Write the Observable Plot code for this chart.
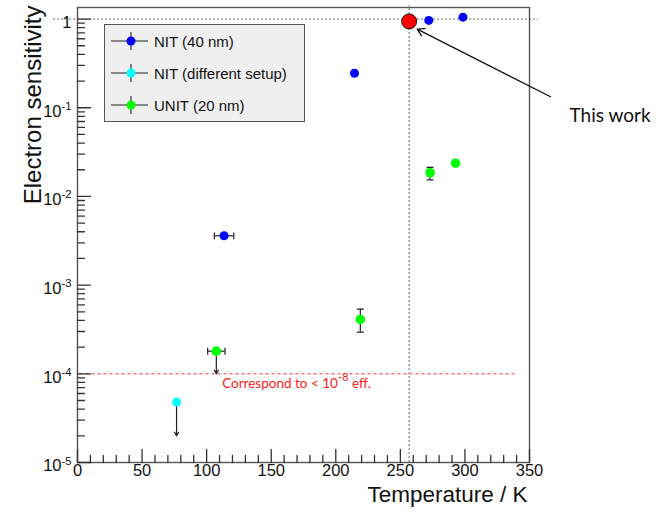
<!DOCTYPE html>
<html>
<head>
<meta charset="utf-8">
<script src="https://cdn.jsdelivr.net/npm/d3@7"></script>
<script src="https://cdn.jsdelivr.net/npm/@observablehq/plot@0.6"></script>
<style>
  body { margin: 0; background: #fff; }
  #wrap { position: relative; width: 660px; height: 514px; }
  .legend {
    position: absolute; left: 104px; top: 24px; width: 199px; height: 96px;
    background: #efefef; border: 1.3px solid #555; box-sizing: content-box;
    font: 15px "Liberation Sans", Arial, sans-serif; color: #111;
  }
  .legend .row { position: relative; height: 32px; display: flex; align-items: center; }
  .legend svg { position: absolute; left: 0; top: 0; }
  .legend span { position: absolute; left: 49px; top: 50%; transform: translateY(-50%); white-space: nowrap; }
</style>
</head>
<body>
<div id="wrap"></div>
<script>
// NIT (40 nm): temperature [K], electron sensitivity, temperature uncertainty
const nitTemp    = [113.5, 214.5, 272.0, 298.5];
const nitSens    = [3.6e-3, 0.245, 0.965, 1.05];
const nitTempErr = [7.5, 0, 0, 0];

// NIT (different setup): upper limit only
const altTemp  = [76.7];
const altSens  = [4.8e-5];
const altLimit = [2.0e-5];

// UNIT (20 nm)
const unitTemp    = [107.5, 219.0, 273.0, 292.7];
const unitSens    = [1.8e-4, 4.1e-4, 0.0185, 0.0237];
const unitSensLo  = [null, 2.95e-4, 0.0154, null];
const unitSensHi  = [null, 5.35e-4, 0.0213, null];
const unitTempErr = [6.7, 0, 0, 0];
const unitLimit   = [1.0e-4, null, null, null];

// This work
const thisWorkTemp = 256.8;
const thisWorkSens = 0.94;

// Reference levels (dashed guides)
const unityLevel = 1;
const effLevel = 1e-4;

// Legend entries
const seriesNames  = ["NIT (40 nm)", "NIT (different setup)", "UNIT (20 nm)"];
const seriesColors = ["#0000ff", "#00ffff", "#00ff00"];

// Axis ticks and labels
const xMajor = [0, 50, 100, 150, 200, 250, 300, 350];
const xMinor = d3.range(0, 351, 10).filter(v => v % 50 !== 0);
const yMajor = [1e-5, 1e-4, 1e-3, 1e-2, 1e-1, 1];
const yTickLabels = ["10^{-5}", "10^{-4}", "10^{-3}", "10^{-2}", "10^{-1}", "1"];
const yMinor = yMajor.slice(0, -1).flatMap(p => d3.range(2, 10).map(k => k * p));

// Build row tables from the arrays
const nit  = nitTemp.map((t, i) => ({t, s: nitSens[i], e: nitTempErr[i]}));
const alt  = altTemp.map((t, i) => ({t, s: altSens[i], lim: altLimit[i]}));
const unit = unitTemp.map((t, i) => ({t, s: unitSens[i], lo: unitSensLo[i], hi: unitSensHi[i], e: unitTempErr[i], lim: unitLimit[i]}));

const xErr = [...nit, ...unit].filter(d => d.e > 0);
const yErr = unit.filter(d => d.lo != null);
const limits = [...alt, ...unit].filter(d => d.lim != null);

const axisColor = "#333";
const font = "'Liberation Sans', Arial, Helvetica, sans-serif";
const noteFont = "Lato, 'Open Sans', sans-serif";
const tick = (extra) => ({shape: "spike", r: 0, anchor: "start", stroke: axisColor, strokeWidth: 1.3, ...extra});
const cap = (extra) => ({shape: "spike", r: 0, anchor: "middle", length: 6, stroke: "#222", strokeWidth: 1.2, ...extra});

const chart = Plot.plot({
  width: 660,
  height: 514,
  marginLeft: 77,
  marginRight: 131,
  marginTop: 7,
  marginBottom: 52,
  style: {fontFamily: font, background: "#fff", overflow: "visible"},
  x: {domain: [0, 350], axis: null},
  y: {type: "log", domain: [1e-5, 1.35], axis: null},
  marks: [
    // dashed guides
    Plot.ruleY([unityLevel], {x1: -18.5, x2: 357, stroke: "#666", strokeWidth: 1, strokeDasharray: "2,2"}),
    Plot.ruleX([thisWorkTemp], {y1: 1e-5, y2: 1.42, stroke: "#666", strokeWidth: 1, strokeDasharray: "2,2"}),
    Plot.ruleY([effLevel], {x1: 2, x2: 341, stroke: "#ff3030", strokeWidth: 1, strokeDasharray: "3,3"}),
    Plot.frame({stroke: "#555", strokeWidth: 1.4}),

    // inward axis ticks
    Plot.vector(xMajor, tick({x: d => d, frameAnchor: "bottom", length: 13})),
    Plot.vector(xMinor, tick({x: d => d, frameAnchor: "bottom", length: 7})),
    Plot.vector(yMajor, tick({y: d => d, frameAnchor: "left", rotate: 90, length: 13})),
    Plot.vector(yMinor, tick({y: d => d, frameAnchor: "left", rotate: 90, length: 7})),

    // error bars
    Plot.ruleY(xErr, {y: "s", x1: d => d.t - d.e, x2: d => d.t + d.e, stroke: "#222", strokeWidth: 1.2}),
    Plot.vector(xErr, cap({x: d => d.t - d.e, y: "s"})),
    Plot.vector(xErr, cap({x: d => d.t + d.e, y: "s"})),
    Plot.ruleX(yErr, {x: "t", y1: "lo", y2: "hi", stroke: "#222", strokeWidth: 1.2}),
    Plot.vector(yErr, cap({x: "t", y: "lo", rotate: 90})),
    Plot.vector(yErr, cap({x: "t", y: "hi", rotate: 90})),

    // upper limits
    Plot.arrow(limits, {x1: "t", y1: "s", x2: "t", y2: "lim", stroke: "#222", strokeWidth: 1.2, headLength: 5}),

    // data points
    Plot.dot(nit, {x: "t", y: "s", r: 4.5, fill: seriesColors[0]}),
    Plot.dot(alt, {x: "t", y: "s", r: 4.5, fill: seriesColors[1]}),
    Plot.dot(unit, {x: "t", y: "s", r: 4.8, fill: seriesColors[2]}),
    Plot.dot([thisWorkTemp], {x: d => d, y: thisWorkSens, r: 7.5, fill: "#ff0000", stroke: "#111", strokeWidth: 1}),

    // annotations
    Plot.arrow([thisWorkTemp], {x1: 366.3, y1: 0.133, x2: 263, y2: 0.77, stroke: "#111", strokeWidth: 1.3, headLength: 9}),
    Plot.text(["This work"], {x: 381, y: 0.0815, textAnchor: "start", fontSize: 19, fontFamily: noteFont, fill: "#111"}),
    Plot.text(["Correspond to < 10^{-8} eff."], {x: 112, y: 1e-4, dy: 10, textAnchor: "start", fontSize: 13.5, fontFamily: noteFont, fill: "#ff1a1a"}),

    // tick labels
    Plot.text(xMajor, {x: d => d, frameAnchor: "bottom", dy: 13.7, text: d => String(d), fontSize: 16.5, fill: "#111"}),
    Plot.text(yMajor, {y: d => d, frameAnchor: "left", dx: -6, dy: 3.5, text: (d, i) => yTickLabels[i], textAnchor: "end", fontSize: 16.5, fill: "#111"}),

    // axis titles
    Plot.text(["Electron sensitivity"], {frameAnchor: "top-left", dx: -54, dy: -2, rotate: -90, textAnchor: "end", fontSize: 24, fill: "#111"}),
    Plot.text(["Temperature / K"], {frameAnchor: "bottom-right", dx: -2, dy: 39, textAnchor: "end", fontSize: 22.5, fill: "#111"})
  ]
});

// Render "base^{exp}" markup as superscripts
d3.select(chart).selectAll("text").each(function () {
  const s = this.textContent;
  if (!s.includes("^{")) return;
  const el = d3.select(this);
  const size = parseFloat(getComputedStyle(this).fontSize) || 16;
  const shift = size * 0.42;
  el.text(null);
  const parts = s.split(/\^\{([^}]*)\}/);
  parts.forEach((p, i) => {
    if (!p) return;
    if (i % 2 === 1) {
      el.append("tspan").attr("font-size", size * 0.7).attr("dy", -shift).text(p);
    } else {
      const t = el.append("tspan").text(p);
      if (i > 0) t.attr("dy", shift);
    }
  });
});

const wrap = document.getElementById("wrap");
wrap.appendChild(chart);

// Legend box inside the frame
const legend = d3.select(wrap).append("div").attr("class", "legend");
seriesNames.forEach((name, i) => {
  const row = legend.append("div").attr("class", "row");
  const svg = row.append("svg").attr("width", 48).attr("height", 32);
  svg.append("line").attr("x1", 6).attr("x2", 43).attr("y1", 16).attr("y2", 16).attr("stroke", "#222").attr("stroke-width", 1.1);
  svg.append("line").attr("x1", 26).attr("x2", 26).attr("y1", 7).attr("y2", 25).attr("stroke", "#222").attr("stroke-width", 1.1);
  svg.append("circle").attr("cx", 26).attr("cy", 16).attr("r", 4.5).attr("fill", seriesColors[i]);
  row.append("span").text(name);
});
</script>
</body>
</html>
